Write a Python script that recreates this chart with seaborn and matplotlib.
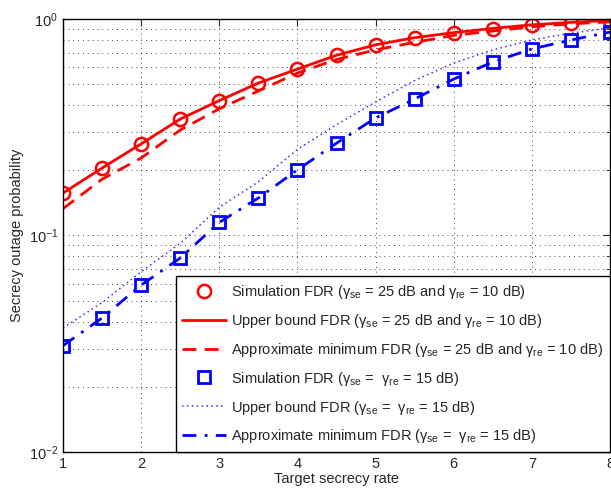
import numpy as np
import matplotlib
matplotlib.use("Agg")
import matplotlib.pyplot as plt
import seaborn as sns
from matplotlib.ticker import LogLocator, NullFormatter, FixedLocator
from matplotlib.lines import Line2D

# ---------------- data ----------------
rate = [1, 1.5, 2, 2.5, 3, 3.5, 4, 4.5, 5, 5.5, 6, 6.5, 7, 7.5, 8]

sim_red = [0.157, 0.205, 0.265, 0.345, 0.42, 0.506, 0.587, 0.68, 0.76,
           0.82, 0.86, 0.90, 0.94, 0.96, 0.98]
ub_red = [0.157, 0.205, 0.265, 0.345, 0.42, 0.506, 0.587, 0.68, 0.76,
          0.82, 0.865, 0.905, 0.94, 0.965, 0.985]
apx_red = [0.133, 0.182, 0.228, 0.307, 0.385, 0.465, 0.563, 0.65, 0.72,
           0.78, 0.84, 0.88, 0.92, 0.95, 0.97]

sim_blue = [0.031, 0.0416, 0.059, 0.0787, 0.115, 0.149, 0.201, 0.267, 0.349,
            0.427, 0.528, 0.633, 0.727, 0.80, 0.87]
ub_blue = [0.0374, 0.049, 0.068, 0.092, 0.135, 0.177, 0.25, 0.325, 0.414,
           0.52, 0.626, 0.72, 0.80, 0.86, 0.91]
apx_blue = [0.031, 0.0416, 0.059, 0.0787, 0.115, 0.149, 0.201, 0.267, 0.349,
            0.427, 0.528, 0.633, 0.727, 0.80, 0.87]

labels = [
    r"Simulation FDR ($\gamma_{\rm se}$ = 25 dB and $\gamma_{\rm re}$ = 10 dB)",
    r"Upper bound FDR ($\gamma_{\rm se}$ = 25 dB and $\gamma_{\rm re}$ = 10 dB)",
    r"Approximate minimum FDR ($\gamma_{\rm se}$ = 25 dB and $\gamma_{\rm re}$ = 10 dB)",
    r"Simulation FDR ($\gamma_{\rm se}$ =  $\gamma_{\rm re}$ = 15 dB)",
    r"Upper bound FDR ($\gamma_{\rm se}$ =  $\gamma_{\rm re}$ = 15 dB)",
    r"Approximate minimum FDR ($\gamma_{\rm se}$ =  $\gamma_{\rm re}$ = 15 dB)",
]

# ---------------- style ----------------
sns.set_style("white")
plt.rcParams["font.family"] = ["Liberation Sans", "DejaVu Sans"]
plt.rcParams["mathtext.fontset"] = "custom"
plt.rcParams["mathtext.rm"] = "Liberation Sans"
plt.rcParams["mathtext.it"] = "Liberation Sans"
plt.rcParams["mathtext.bf"] = "Liberation Sans:bold"
fs = 10.5
plt.rcParams["font.size"] = fs

fig = plt.figure(figsize=(6.11, 4.9), dpi=100)
ax = fig.add_axes([63 / 611, 38 / 490, 547 / 611, 433 / 490])

red = "#ff0000"
blue = "#0000ff"

# lines
sns.lineplot(x=rate, y=ub_red, ax=ax, color=red, lw=2, errorbar=None)
sns.lineplot(x=rate, y=apx_red, ax=ax, color=red, lw=2, errorbar=None,
             linestyle=(0, (5, 3)))
sns.lineplot(x=rate, y=ub_blue, ax=ax, color="#3030ff", lw=1.1, errorbar=None,
             linestyle=(0, (1, 2.2)))
sns.lineplot(x=rate, y=apx_blue, ax=ax, color=blue, lw=2, errorbar=None,
             linestyle=(0, (5, 3, 1, 3)))
# markers
sns.lineplot(x=rate, y=sim_red, ax=ax, linestyle="none", marker="o",
             markersize=9.5, markerfacecolor="none", markeredgecolor=red,
             markeredgewidth=1.8, errorbar=None)
sns.lineplot(x=rate, y=sim_blue, ax=ax, linestyle="none", marker="s",
             markersize=8, markerfacecolor="none", markeredgecolor=blue,
             markeredgewidth=2, errorbar=None)

ax.set_yscale("log")
ax.set_xlim(1, 8)
ax.set_ylim(1e-2, 1)
ax.xaxis.set_major_locator(FixedLocator([1, 2, 3, 4, 5, 6, 7, 8]))
ax.yaxis.set_major_locator(LogLocator(base=10))
ax.yaxis.set_minor_locator(LogLocator(base=10, subs=np.arange(2, 10)))
ax.yaxis.set_minor_formatter(NullFormatter())

ax.grid(True, which="major", axis="x", linestyle=(0, (1, 4)), color="#444444", lw=0.7)
ax.grid(True, which="both", axis="y", linestyle=(0, (1, 4)), color="#444444", lw=0.7)
ax.tick_params(which="both", direction="in", top=True, right=True, labelsize=fs)
ax.tick_params(which="major", length=5)
ax.tick_params(which="minor", length=3)
for s in ax.spines.values():
    s.set_linewidth(1.0)
    s.set_color("black")

ax.set_xlabel("Target secrecy rate", fontsize=fs, labelpad=1)
ax.set_ylabel("Secrecy outage probability", fontsize=fs, labelpad=3)

handles = [
    Line2D([], [], linestyle="none", marker="o", markersize=9.5, markerfacecolor="none",
           markeredgecolor=red, markeredgewidth=1.8),
    Line2D([], [], color=red, lw=2),
    Line2D([], [], color=red, lw=2, linestyle=(0, (5, 3))),
    Line2D([], [], linestyle="none", marker="s", markersize=8, markerfacecolor="none",
           markeredgecolor=blue, markeredgewidth=2),
    Line2D([], [], color="#3030ff", lw=1.1, linestyle=(0, (1, 2.2))),
    Line2D([], [], color=blue, lw=2, linestyle=(0, (5, 3, 1, 3))),
]
leg = ax.legend(handles, labels, loc="lower right", borderaxespad=0.0,
                fancybox=False, framealpha=1, edgecolor="black",
                handlelength=3.0, handletextpad=0.35, labelspacing=0.75,
                borderpad=0.45, fontsize=fs)
leg.get_frame().set_linewidth(1.0)

fig.savefig("out.png", dpi=100)
